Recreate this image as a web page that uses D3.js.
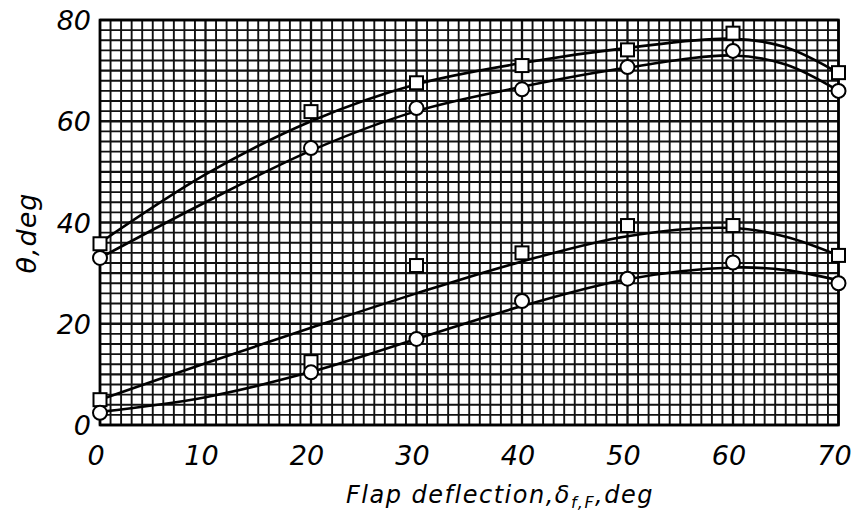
<!DOCTYPE html>
<html><head><meta charset="utf-8">
<script src="https://cdn.jsdelivr.net/npm/d3@7"></script>
<style>body{margin:0;background:#fff}</style>
</head><body>
<svg id="c" width="859" height="515"></svg>
<script>
// Measured points
const flapDeg = [0, 20, 30, 40, 50, 60, 70];
const upperSquare = [35.8, 61.9, 67.6, 71.0, 74.1, 77.4, 69.6];
const upperCircle = [33.0, 54.7, 62.6, 66.3, 70.7, 73.9, 66.0];
const lowerSquare = [5.0, 12.5, 31.5, 34.0, 39.4, 39.4, 33.5];
const lowerCircle = [2.4, 10.4, 17.0, 24.5, 28.9, 32.1, 28.0];
// Faired curves
const curveX = [0, 10, 20, 30, 40, 50, 60, 65, 70];
const upperSquareCurve = [36, 49.5, 60, 67.3, 71.5, 74.5, 76.3, 74.6, 69.5];
const upperCircleCurve = [33, 44, 54.2, 62, 66.8, 70.6, 73, 71.2, 66];
const lowerSquareCurve = [5, 12.2, 19.2, 26, 32.3, 37.3, 38.9, 37.2, 33.5];
const lowerCircleCurve = [2.6, 5.5, 10.5, 17, 23.5, 28.8, 31.1, 30.6, 28.6];
const xTicks = [0, 10, 20, 30, 40, 50, 60, 70];
const yTicks = [0, 20, 40, 60, 80];

const svg = d3.select("#c");
const x = d3.scaleLinear().domain([0, 70]).range([100, 838.5]);
const y = d3.scaleLinear().domain([0, 80]).range([425, 20]);
const font = "'DejaVu Sans', sans-serif";

// grid
const g = svg.append("g");
g.selectAll("line.v").data(d3.range(0, 71, 1)).join("line")
  .attr("x1", d => x(d)).attr("x2", d => x(d)).attr("y1", y(0)).attr("y2", y(80))
  .attr("stroke", "#111").attr("stroke-width", d => d % 10 === 0 ? 2.3 : 1.9);
g.selectAll("line.h").data(d3.range(0, 81, 2)).join("line")
  .attr("y1", d => y(d)).attr("y2", d => y(d)).attr("x1", x(0)).attr("x2", x(70))
  .attr("stroke", "#111").attr("stroke-width", d => d % 10 === 0 ? 2.3 : 1.9);
g.append("rect").attr("x", x(0)).attr("y", y(80)).attr("width", x(70) - x(0)).attr("height", y(0) - y(80))
  .attr("fill", "none").attr("stroke", "#000").attr("stroke-width", 2.6);

// curves
const line = d3.line().x(d => x(d[0])).y(d => y(d[1])).curve(d3.curveCatmullRom.alpha(0.5));
[upperSquareCurve, upperCircleCurve, lowerSquareCurve, lowerCircleCurve].forEach(arr => {
  svg.append("path").attr("d", line(curveX.map((v, i) => [v, arr[i]])))
    .attr("fill", "none").attr("stroke", "#000").attr("stroke-width", 2.6);
});

// markers
function squares(arr) {
  svg.append("g").selectAll("rect").data(flapDeg.map((v, i) => [v, arr[i]])).join("rect")
    .attr("x", d => x(d[0]) - 6.5).attr("y", d => y(d[1]) - 6.5).attr("width", 13).attr("height", 13)
    .attr("fill", "#fff").attr("stroke", "#000").attr("stroke-width", 2);
}
function circles(arr) {
  svg.append("g").selectAll("circle").data(flapDeg.map((v, i) => [v, arr[i]])).join("circle")
    .attr("cx", d => x(d[0])).attr("cy", d => y(d[1])).attr("r", 7)
    .attr("fill", "#fff").attr("stroke", "#000").attr("stroke-width", 2);
}
squares(upperSquare); circles(upperCircle); squares(lowerSquare); circles(lowerCircle);

// tick labels
svg.append("g").selectAll("text").data(xTicks).join("text")
  .attr("x", d => x(d) - 4).attr("y", 465).attr("text-anchor", "middle")
  .attr("font-family", font).attr("font-style", "italic").attr("font-size", 27)
  .text(d => d);
svg.append("g").selectAll("text").data(yTicks).join("text")
  .attr("x", 91).attr("y", d => y(d) + 10).attr("text-anchor", "end")
  .attr("font-family", font).attr("font-style", "italic").attr("font-size", 27)
  .text(d => d);

// axis titles
const xt = svg.append("text").attr("x", 500).attr("y", 503).attr("text-anchor", "middle")
  .attr("font-family", font).attr("font-style", "italic").attr("font-size", 24).attr("letter-spacing", 1.5);
xt.append("tspan").text("Flap deflection,δ");
xt.append("tspan").attr("font-size", 16).attr("dy", 5).text("f,F");
xt.append("tspan").attr("dy", -5).text(",deg");

svg.append("text").attr("transform", "translate(36,233) rotate(-90)").attr("text-anchor", "middle")
  .attr("font-family", font).attr("font-style", "italic").attr("font-size", 27).attr("letter-spacing", 1)
  .text("θ,deg");
</script>
</body></html>
